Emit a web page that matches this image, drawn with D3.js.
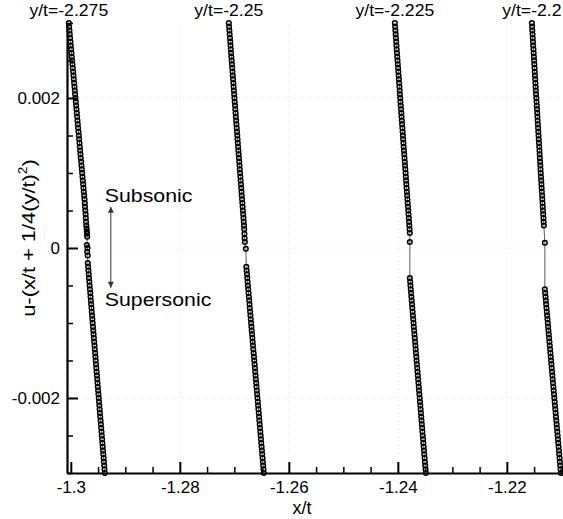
<!DOCTYPE html>
<html><head><meta charset="utf-8">
<script src="https://cdn.jsdelivr.net/npm/d3@7"></script>
<style>body{margin:0;background:#fff} text{font-family:"Liberation Sans",Arial,sans-serif;fill:#000}</style>
</head><body><svg id="c" width="563" height="519"></svg>
<script>
const seriesLabels = ["y/t=-2.275","y/t=-2.25","y/t=-2.225","y/t=-2.2"];
const xTicks = [-1.3,-1.28,-1.26,-1.24,-1.22];
const xTickLabels = ["-1.3","-1.28","-1.26","-1.24","-1.22"];
const yTicks = [-0.002,0,0.002];
const yTickLabels = ["-0.002","0","0.002"];
const xTitle = "x/t";
const annotations = [{text:"Subsonic", x:-1.29376, u:0.000613},{text:"Supersonic", x:-1.29376, u:-0.000773}];
const arrow = {x:-1.29266, u1:0.00055, u2:-0.00053};

// y/t = -2.275
const s1x = [-1.30037,-1.30031,-1.30025,-1.30019,-1.30013,-1.30006,-1.30000,-1.29994,-1.29988,-1.29982,-1.29976,-1.29970,-1.29964,-1.29957,-1.29951,-1.29945,-1.29939,-1.29933,-1.29927,-1.29921,-1.29915,-1.29908,-1.29902,-1.29896,-1.29890,-1.29884,-1.29878,-1.29872,-1.29866,-1.29859,-1.29853,-1.29847,-1.29841,-1.29835,-1.29829,-1.29823,-1.29817,-1.29810,-1.29804,-1.29798,-1.29792,-1.29786,-1.29780,-1.29774,-1.29768,-1.29761,-1.29755,-1.29749,-1.29743,
 -1.2974,-1.29734,-1.29728,-1.29725,-1.2972,-1.29716,-1.2971,-1.29706,-1.29703,-1.29699,-1.29706,-1.29694,-1.29700,-1.29690,
 -1.29688,-1.29682,-1.29677,-1.29671,-1.29666,-1.29660,-1.29655,-1.29649,-1.29643,-1.29638,-1.29632,-1.29627,-1.29621,-1.29616,-1.29610,-1.29604,-1.29599,-1.29593,-1.29588,-1.29582,-1.29577,-1.29571,-1.29565,-1.29560,-1.29554,-1.29549,-1.29543,-1.29538,-1.29532,-1.29526,-1.29521,-1.29515,-1.29510,-1.29504,-1.29499,-1.29493,-1.29487,-1.29482,-1.29476,-1.29471,-1.29465,-1.29460,-1.29454,-1.29448,-1.29443,-1.29437,-1.29432,-1.29426,-1.29421,-1.29415,-1.29409,-1.29404,-1.29398,-1.29393,-1.29387,-1.29382,-1.29376];
const s1u = [0.003,0.00295,0.0029,0.00285,0.0028,0.00275,0.0027,0.00265,0.0026,0.00255,0.0025,0.00245,0.0024,0.00235,0.0023,0.00225,0.0022,0.00215,0.0021,0.00205,0.002,0.00195,0.0019,0.00185,0.0018,0.00175,0.0017,0.00165,0.0016,0.00155,0.0015,0.00145,0.0014,0.00135,0.0013,0.00125,0.0012,0.00115,0.0011,0.00105,0.001,0.00095,0.0009,0.00085,0.0008,0.00075,0.0007,0.00065,0.0006,
 0.00055,0.0005,0.00045,0.0004,0.00035,0.0003,0.00026,0.00022,0.00019,0.00015,0.00004,0,-0.00005,-0.0001,
 -0.0002,-0.00025,-0.0003,-0.00035,-0.0004,-0.00045,-0.0005,-0.00055,-0.0006,-0.00065,-0.0007,-0.00075,-0.0008,-0.00085,-0.0009,-0.00095,-0.001,-0.00105,-0.0011,-0.00115,-0.0012,-0.00125,-0.0013,-0.00135,-0.0014,-0.00145,-0.0015,-0.00155,-0.0016,-0.00165,-0.0017,-0.00175,-0.0018,-0.00185,-0.0019,-0.00195,-0.002,-0.00205,-0.0021,-0.00215,-0.0022,-0.00225,-0.0023,-0.00235,-0.0024,-0.00245,-0.0025,-0.00255,-0.0026,-0.00265,-0.0027,-0.00275,-0.0028,-0.00285,-0.0029,-0.00295,-0.003];

// y/t = -2.25
const s2x = [-1.27101,-1.27096,-1.27091,-1.27086,-1.27080,-1.27075,-1.27070,-1.27065,-1.27060,-1.27055,-1.27049,-1.27044,-1.27039,-1.27034,-1.27029,-1.27024,-1.27018,-1.27013,-1.27008,-1.27003,-1.26998,-1.26993,-1.26987,-1.26982,-1.26977,-1.26972,-1.26967,-1.26962,-1.26956,-1.26951,-1.26946,-1.26941,-1.26936,-1.26931,-1.26926,-1.26920,-1.26915,-1.26910,-1.26905,-1.26900,-1.26895,-1.26889,-1.26884,-1.26879,-1.26874,-1.26869,-1.26864,-1.26858,-1.26853,-1.26848,-1.26843,-1.26838,-1.26833,-1.26827,
 -1.26822,-1.26819,-1.26815,-1.26811,-1.26807,-1.26789,
 -1.26780,-1.26774,-1.26768,-1.26762,-1.26757,-1.26751,-1.26745,-1.26739,-1.26733,-1.26727,-1.26722,-1.26716,-1.26710,-1.26704,-1.26698,-1.26692,-1.26687,-1.26681,-1.26675,-1.26669,-1.26663,-1.26657,-1.26652,-1.26646,-1.26640,-1.26634,-1.26628,-1.26622,-1.26617,-1.26611,-1.26605,-1.26599,-1.26593,-1.26587,-1.26582,-1.26576,-1.26570,-1.26564,-1.26558,-1.26552,-1.26546,-1.26541,-1.26535,-1.26529,-1.26523,-1.26517,-1.26511,-1.26506,-1.26500,-1.26494,-1.26488,-1.26482,-1.26476,-1.26471,-1.26465,-1.26459];
const s2u = [0.003,0.00295,0.0029,0.00285,0.0028,0.00275,0.0027,0.00265,0.0026,0.00255,0.0025,0.00245,0.0024,0.00235,0.0023,0.00225,0.0022,0.00215,0.0021,0.00205,0.002,0.00195,0.0019,0.00185,0.0018,0.00175,0.0017,0.00165,0.0016,0.00155,0.0015,0.00145,0.0014,0.00135,0.0013,0.00125,0.0012,0.00115,0.0011,0.00105,0.001,0.00095,0.0009,0.00085,0.0008,0.00075,0.0007,0.00065,0.0006,0.00055,0.0005,0.00045,0.0004,0.00035,
 0.0003,0.00025,0.00019,0.00013,0.00008,-0.00001,
 -0.00025,-0.0003,-0.00035,-0.0004,-0.00045,-0.0005,-0.00055,-0.0006,-0.00065,-0.0007,-0.00075,-0.0008,-0.00085,-0.0009,-0.00095,-0.001,-0.00105,-0.0011,-0.00115,-0.0012,-0.00125,-0.0013,-0.00135,-0.0014,-0.00145,-0.0015,-0.00155,-0.0016,-0.00165,-0.0017,-0.00175,-0.0018,-0.00185,-0.0019,-0.00195,-0.002,-0.00205,-0.0021,-0.00215,-0.0022,-0.00225,-0.0023,-0.00235,-0.0024,-0.00245,-0.0025,-0.00255,-0.0026,-0.00265,-0.0027,-0.00275,-0.0028,-0.00285,-0.0029,-0.00295,-0.003];

// y/t = -2.225
const s3x = [-1.24055,-1.24050,-1.24045,-1.24040,-1.24035,-1.24030,-1.24026,-1.24021,-1.24016,-1.24011,-1.24006,-1.24001,-1.23996,-1.23991,-1.23986,-1.23981,-1.23976,-1.23971,-1.23966,-1.23962,-1.23957,-1.23952,-1.23947,-1.23942,-1.23937,-1.23932,-1.23927,-1.23922,-1.23917,-1.23912,-1.23907,-1.23903,-1.23898,-1.23893,-1.23888,-1.23883,-1.23878,-1.23873,-1.23868,-1.23863,-1.23858,-1.23853,-1.23849,-1.23844,-1.23839,-1.23834,-1.23829,-1.23824,-1.23819,-1.23814,-1.23809,-1.23804,-1.23799,-1.23794,-1.23790,-1.23785,-1.23780,
 -1.23780,
 -1.23780,-1.23774,-1.23769,-1.23763,-1.23757,-1.23752,-1.23746,-1.23740,-1.23735,-1.23729,-1.23724,-1.23718,-1.23712,-1.23707,-1.23701,-1.23695,-1.23690,-1.23684,-1.23678,-1.23673,-1.23667,-1.23661,-1.23656,-1.23650,-1.23645,-1.23639,-1.23633,-1.23628,-1.23622,-1.23616,-1.23611,-1.23605,-1.23599,-1.23594,-1.23588,-1.23582,-1.23577,-1.23571,-1.23566,-1.23560,-1.23554,-1.23549,-1.23543,-1.23537,-1.23532,-1.23526,-1.23520,-1.23515,-1.23509,-1.23503,-1.23498,-1.23492,-1.23486];
const s3u = [0.003,0.00295,0.0029,0.00285,0.0028,0.00275,0.0027,0.00265,0.0026,0.00255,0.0025,0.00245,0.0024,0.00235,0.0023,0.00225,0.0022,0.00215,0.0021,0.00205,0.002,0.00195,0.0019,0.00185,0.0018,0.00175,0.0017,0.00165,0.0016,0.00155,0.0015,0.00145,0.0014,0.00135,0.0013,0.00125,0.0012,0.00115,0.0011,0.00105,0.001,0.00095,0.0009,0.00085,0.0008,0.00075,0.0007,0.00065,0.0006,0.00055,0.0005,0.00045,0.0004,0.00035,0.0003,0.00025,0.0002,
 0.00008,
 -0.0004,-0.00045,-0.0005,-0.00055,-0.0006,-0.00065,-0.0007,-0.00075,-0.0008,-0.00085,-0.0009,-0.00095,-0.001,-0.00105,-0.0011,-0.00115,-0.0012,-0.00125,-0.0013,-0.00135,-0.0014,-0.00145,-0.0015,-0.00155,-0.0016,-0.00165,-0.0017,-0.00175,-0.0018,-0.00185,-0.0019,-0.00195,-0.002,-0.00205,-0.0021,-0.00215,-0.0022,-0.00225,-0.0023,-0.00235,-0.0024,-0.00245,-0.0025,-0.00255,-0.0026,-0.00265,-0.0027,-0.00275,-0.0028,-0.00285,-0.0029,-0.00295,-0.003];

// y/t = -2.2
const s4x = [-1.21541,-1.21537,-1.21533,-1.21529,-1.21525,-1.21521,-1.21517,-1.21512,-1.21508,-1.21504,-1.21500,-1.21496,-1.21492,-1.21488,-1.21484,-1.21480,-1.21476,-1.21472,-1.21468,-1.21464,-1.21459,-1.21455,-1.21451,-1.21447,-1.21443,-1.21439,-1.21435,-1.21431,-1.21427,-1.21423,-1.21419,-1.21415,-1.21411,-1.21406,-1.21402,-1.21398,-1.21394,-1.21390,-1.21386,-1.21382,-1.21378,-1.21374,-1.21370,-1.21366,-1.21362,-1.21358,-1.21353,-1.21349,-1.21345,-1.21341,-1.21337,-1.21333,-1.21329,-1.21325,-1.21321,
 -1.21303,
 -1.21303,-1.21297,-1.21291,-1.21285,-1.21279,-1.21273,-1.21267,-1.21261,-1.21255,-1.21249,-1.21243,-1.21237,-1.21231,-1.21225,-1.21219,-1.21213,-1.21207,-1.21201,-1.21195,-1.21189,-1.21183,-1.21177,-1.21171,-1.21165,-1.21159,-1.21153,-1.21147,-1.21141,-1.21135,-1.21129,-1.21123,-1.21117,-1.21111,-1.21105,-1.21099,-1.21093,-1.21087,-1.21081,-1.21075,-1.21069,-1.21063,-1.21057,-1.21051,-1.21045,-1.21039,-1.21033,-1.21027,-1.21021,-1.21015,-1.21009];
const s4u = [0.003,0.00295,0.0029,0.00285,0.0028,0.00275,0.0027,0.00265,0.0026,0.00255,0.0025,0.00245,0.0024,0.00235,0.0023,0.00225,0.0022,0.00215,0.0021,0.00205,0.002,0.00195,0.0019,0.00185,0.0018,0.00175,0.0017,0.00165,0.0016,0.00155,0.0015,0.00145,0.0014,0.00135,0.0013,0.00125,0.0012,0.00115,0.0011,0.00105,0.001,0.00095,0.0009,0.00085,0.0008,0.00075,0.0007,0.00065,0.0006,0.00055,0.0005,0.00045,0.0004,0.00035,0.0003,
 0.00007,
 -0.00055,-0.0006,-0.00065,-0.0007,-0.00075,-0.0008,-0.00085,-0.0009,-0.00095,-0.001,-0.00105,-0.0011,-0.00115,-0.0012,-0.00125,-0.0013,-0.00135,-0.0014,-0.00145,-0.0015,-0.00155,-0.0016,-0.00165,-0.0017,-0.00175,-0.0018,-0.00185,-0.0019,-0.00195,-0.002,-0.00205,-0.0021,-0.00215,-0.0022,-0.00225,-0.0023,-0.00235,-0.0024,-0.00245,-0.0025,-0.00255,-0.0026,-0.00265,-0.0027,-0.00275,-0.0028,-0.00285,-0.0029,-0.00295,-0.003];

const seriesX = [s1x,s2x,s3x,s4x];
const seriesU = [s1u,s2u,s3u,s4u];

const svg = d3.select("#c");
const x = d3.scaleLinear().domain([-1.3007,-1.2097]).range([67,563]);
const y = d3.scaleLinear().domain([-0.003,0.003]).range([473,23]);

function stretch(sel, f){
  sel.each(function(){
    const w = this.getComputedTextLength();
    this.setAttribute("textLength", (w*f).toFixed(1));
    this.setAttribute("lengthAdjust","spacingAndGlyphs");
  });
}

// grid
const grid = svg.append("g");
grid.selectAll("line.gx").data(xTicks).join("line").attr("class","gx")
  .attr("x1",d=>x(d)).attr("x2",d=>x(d)).attr("y1",y(-0.003)).attr("y2",y(0.003))
  .attr("stroke","#e2e2e2").attr("stroke-width",1).attr("stroke-dasharray","1,3");
grid.selectAll("line.gy").data(yTicks).join("line").attr("class","gy")
  .attr("y1",d=>y(d)).attr("y2",d=>y(d)).attr("x1",x.range()[0]).attr("x2",x.range()[1])
  .attr("stroke","#e2e2e2").attr("stroke-width",1).attr("stroke-dasharray","1,3");

// series
const line = d3.line().x(d=>x(d[0])).y(d=>y(d[1]));
seriesX.forEach((xs,i)=>{
  const pts = d3.zip(xs, seriesU[i]);
  svg.append("path").attr("d", line(pts)).attr("fill","none").attr("stroke","#333").attr("stroke-width",0.8);
  svg.append("g").selectAll("circle").data(pts).join("circle")
    .attr("cx",d=>x(d[0])).attr("cy",d=>y(d[1])).attr("r",2.3)
    .attr("fill","none").attr("stroke","#000").attr("stroke-width",1.5);
  svg.append("text").attr("x", x(xs[0])).attr("y",16).attr("text-anchor","middle")
    .style("font-size","16px").text(seriesLabels[i]).call(stretch,1.1);
});

// axes
const isMajorX = v => Math.abs(v*50 - Math.round(v*50)) < 1e-6;
const isMajorY = v => Math.abs(v*500 - Math.round(v*500)) < 1e-6;
const xMinor = d3.range(0,19).map(k=>-1.3+k*0.005).filter(v=>!isMajorX(v));
const yMinor = d3.range(0,13).map(k=>-0.003+k*0.0005).filter(v=>!isMajorY(v));

const gxMinor = svg.append("g").attr("transform",`translate(0,${y.range()[0]})`)
  .call(d3.axisBottom(x).tickValues(xMinor).tickSizeInner(-6).tickSizeOuter(0).tickFormat(""));
gxMinor.select(".domain").remove();
gxMinor.selectAll(".tick line").attr("stroke-width",1.5);

const gyMinor = svg.append("g").attr("transform",`translate(${x.range()[0]},0)`)
  .call(d3.axisLeft(y).tickValues(yMinor).tickSizeInner(-6).tickSizeOuter(0).tickFormat(""));
gyMinor.select(".domain").remove();
gyMinor.selectAll(".tick line").attr("stroke-width",1.5);

const gx = svg.append("g").attr("transform",`translate(0,${y.range()[0]})`)
  .call(d3.axisBottom(x).tickValues(xTicks).tickSizeInner(-11).tickSizeOuter(0).tickPadding(8)
    .tickFormat((d,i)=>xTickLabels[i]));
gx.select(".domain").attr("stroke-width",2.2);
gx.selectAll(".tick line").attr("stroke-width",2);
gx.selectAll(".tick text").attr("font-family",null).style("font-size","17px");

const gy = svg.append("g").attr("transform",`translate(${x.range()[0]},0)`)
  .call(d3.axisLeft(y).tickValues(yTicks).tickSizeInner(-11).tickSizeOuter(0).tickPadding(7)
    .tickFormat((d,i)=>yTickLabels[i]));
gy.select(".domain").attr("stroke-width",2.2);
gy.selectAll(".tick line").attr("stroke-width",2);
gy.selectAll(".tick text").attr("font-family",null).style("font-size","17px");

// axis titles
svg.append("text").attr("x",302).attr("y",514).attr("text-anchor","middle")
  .style("font-size","18px").text(xTitle);
const yt = svg.append("text").attr("transform","translate(35,238) rotate(-90)").attr("text-anchor","middle")
  .style("font-size","19px");
yt.append("tspan").text("u-(x/t + 1/4(y/t)");
yt.append("tspan").attr("dy",-8).style("font-size","12px").text("2");
yt.append("tspan").attr("dy",8).text(")");
yt.call(stretch,1.15);

// annotations
const defs = svg.append("defs");
defs.append("marker").attr("id","ah").attr("viewBox","0 0 10 10").attr("refX",10).attr("refY",5)
  .attr("markerUnits","userSpaceOnUse").attr("markerWidth",7).attr("markerHeight",6)
  .attr("orient","auto-start-reverse")
  .append("path").attr("d","M0,0L10,5L0,10z").attr("fill","#333");
svg.append("line").attr("x1",x(arrow.x)).attr("x2",x(arrow.x)).attr("y1",y(arrow.u1)).attr("y2",y(arrow.u2))
  .attr("stroke","#333").attr("stroke-width",1)
  .attr("marker-start","url(#ah)").attr("marker-end","url(#ah)");
svg.selectAll("text.ann").data(annotations).join("text").attr("class","ann")
  .attr("x",d=>x(d.x)).attr("y",d=>y(d.u)).style("font-size","19px").text(d=>d.text)
  .call(stretch,1.12);
</script></body></html>
